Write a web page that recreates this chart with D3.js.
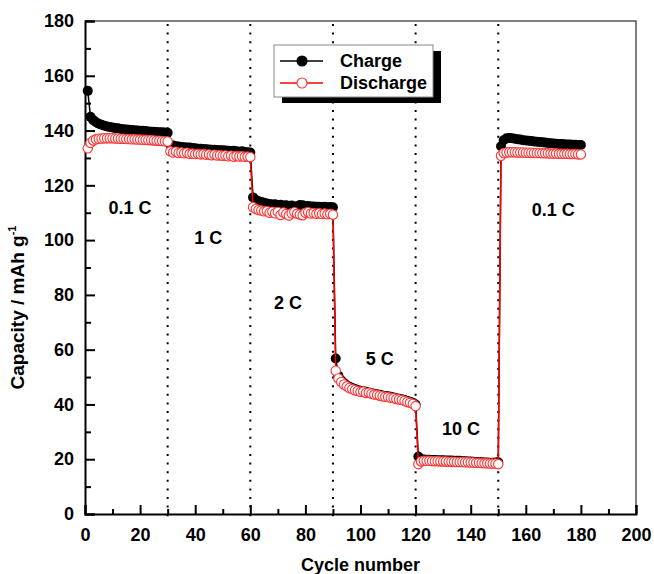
<!DOCTYPE html>
<html>
<head>
<meta charset="utf-8">
<script src="https://cdn.jsdelivr.net/npm/d3@7"></script>
<style>
  body { margin: 0; background: #fff; }
  svg text { font-family: "Liberation Sans", Arial, sans-serif; font-weight: bold; }
</style>
</head>
<body>
<svg id="chart"></svg>
<script>
// Rate steps (cycle where each step ends)
var stepEnds = [30, 60, 90, 120, 150];
var rateLabels = ["0.1 C", "1 C", "2 C", "5 C", "10 C", "0.1 C"];

// Charge capacity, one array per rate step (30 cycles each)
var charge01a = [154.5, 145.0, 143.8, 143.0, 142.5, 142.1, 141.8, 141.5, 141.3, 141.1, 140.9, 140.8, 140.6, 140.5, 140.4, 140.3, 140.2, 140.1, 140.0, 139.9, 139.9, 139.8, 139.7, 139.6, 139.6, 139.5, 139.4, 139.4, 139.3, 139.2];
var charge1 = [134.8, 134.5, 134.3, 134.2, 134.0, 133.9, 133.8, 133.8, 133.6, 133.5, 133.4, 133.4, 133.3, 133.2, 133.1, 133.0, 133.0, 132.9, 132.8, 132.8, 132.7, 132.6, 132.5, 132.6, 132.4, 132.3, 132.4, 132.2, 132.1, 132.0];
var charge2 = [115.6, 114.6, 114.2, 113.9, 113.6, 113.4, 113.2, 113.0, 113.1, 112.8, 112.9, 112.6, 112.7, 112.5, 112.6, 112.3, 112.4, 112.8, 112.7, 112.4, 112.5, 112.3, 112.3, 112.2, 112.2, 112.1, 112.2, 112.0, 112.1, 112.0];
var charge5 = [56.8, 50.5, 48.8, 47.8, 47.0, 46.5, 46.0, 45.6, 45.3, 45.0, 44.8, 44.6, 44.4, 44.1, 43.9, 43.7, 43.5, 43.3, 43.1, 43.0, 42.8, 42.5, 42.3, 42.1, 41.9, 41.6, 41.3, 41.0, 40.6, 40.0];
var charge10 = [21.0, 20.0, 19.9, 19.8, 19.8, 19.7, 19.7, 19.6, 19.6, 19.6, 19.5, 19.5, 19.5, 19.4, 19.4, 19.4, 19.3, 19.3, 19.2, 19.2, 19.1, 19.0, 19.0, 18.9, 18.8, 18.8, 18.7, 18.7, 18.8, 18.9];
var charge01b = [134.3, 136.5, 137.2, 137.3, 137.2, 137.0, 136.8, 136.7, 136.5, 136.4, 136.3, 136.2, 136.0, 135.9, 135.8, 135.7, 135.6, 135.5, 135.4, 135.3, 135.2, 135.1, 135.1, 135.0, 134.9, 134.9, 134.8, 134.8, 134.7, 134.7];

// Discharge capacity
var discharge01a = [133.5, 135.5, 136.4, 136.8, 137.0, 137.1, 137.2, 137.2, 137.2, 137.2, 137.1, 137.1, 137.0, 137.0, 136.9, 136.9, 136.8, 136.8, 136.7, 136.7, 136.6, 136.6, 136.5, 136.5, 136.4, 136.3, 136.3, 136.2, 136.1, 136.0];
var discharge1 = [132.4, 132.0, 132.3, 131.8, 132.0, 131.7, 131.9, 131.5, 131.6, 131.4, 131.5, 131.3, 131.4, 131.2, 131.3, 131.0, 131.2, 130.9, 131.0, 130.8, 130.9, 130.6, 130.8, 130.4, 130.7, 130.5, 130.6, 130.4, 130.5, 130.3];
var discharge2 = [112.0, 111.4, 111.0, 110.8, 110.5, 110.6, 110.0, 110.4, 109.8, 110.3, 109.2, 110.1, 109.5, 109.0, 109.8, 110.2, 109.6, 109.3, 109.1, 110.0, 110.2, 109.7, 109.9, 109.6, 109.8, 109.5, 109.7, 109.4, 109.6, 109.3];
var discharge5 = [52.3, 49.5, 48.2, 47.3, 46.6, 46.0, 45.6, 45.2, 44.9, 44.6, 44.7, 44.2, 44.3, 43.9, 43.6, 43.5, 43.2, 43.0, 42.8, 42.7, 42.4, 42.3, 42.0, 41.8, 41.6, 41.3, 40.9, 40.6, 40.2, 39.4];
var discharge10 = [18.2, 19.2, 19.4, 19.4, 19.4, 19.3, 19.3, 19.3, 19.2, 19.2, 19.2, 19.1, 19.1, 19.1, 19.0, 19.0, 19.0, 18.9, 18.9, 18.8, 18.8, 18.7, 18.7, 18.6, 18.5, 18.5, 18.4, 18.4, 18.4, 18.2];
var discharge01b = [130.8, 131.8, 132.0, 132.1, 132.1, 132.1, 132.0, 132.0, 132.0, 131.9, 131.9, 131.9, 131.8, 131.8, 131.8, 131.7, 131.7, 131.7, 131.6, 131.6, 131.6, 131.5, 131.5, 131.5, 131.5, 131.4, 131.4, 131.4, 131.3, 131.3];

var xTicks = [0, 20, 40, 60, 80, 100, 120, 140, 160, 180, 200];
var yTicks = [0, 20, 40, 60, 80, 100, 120, 140, 160, 180];

var W = 654, H = 574;
var m = {left: 85, right: 18, top: 21, bottom: 60};
var w = W - m.left - m.right, h = H - m.top - m.bottom;

var charge = [].concat(charge01a, charge1, charge2, charge5, charge10, charge01b)
  .map(function(v, i){ return {c: i + 1, v: v}; });
var discharge = [].concat(discharge01a, discharge1, discharge2, discharge5, discharge10, discharge01b)
  .map(function(v, i){ return {c: i + 1, v: v}; });

var x = d3.scaleLinear().domain([0, 200]).range([0, w]);
var y = d3.scaleLinear().domain([0, 180]).range([h, 0]);

var svg = d3.select('#chart').attr('width', W).attr('height', H);
var g = svg.append('g').attr('transform', 'translate(' + m.left + ',' + m.top + ')');

// frame (top / right)
g.append('path')
  .attr('d', 'M0,0H' + w + 'V' + h)
  .attr('fill', 'none').attr('stroke', '#555').attr('stroke-width', 1.5);

// dotted separators
g.selectAll('.sep')
  .data(stepEnds)
  .enter()
  .append('line')
  .attr('x1', function(d){ return x(d); })
  .attr('x2', function(d){ return x(d); })
  .attr('y1', 3).attr('y2', h + 5)
  .attr('stroke', '#000').attr('stroke-width', 2)
  .attr('stroke-dasharray', '2,6.6');

// axes with inward ticks
var xAxis = d3.axisBottom(x).tickValues(d3.range(0, 201, 10)).tickSize(-9).tickPadding(14)
  .tickFormat(function(d){ return xTicks.indexOf(d) >= 0 ? d : ''; });
var yAxis = d3.axisLeft(y).tickValues(d3.range(0, 181, 10)).tickSize(-10).tickPadding(11)
  .tickFormat(function(d){ return yTicks.indexOf(d) >= 0 ? d : ''; });

var gx = g.append('g').attr('transform', 'translate(0,' + h + ')').call(xAxis);
var gy = g.append('g').call(yAxis);

[gx, gy].forEach(function(a){
  a.select('.domain').attr('stroke', '#000').attr('stroke-width', 2);
  a.selectAll('.tick line').attr('stroke', '#000').attr('stroke-width', 2);
  a.selectAll('.tick text').attr('font-size', 18).attr('fill', '#000')
    .attr('font-family', '"Liberation Sans", Arial, sans-serif').attr('font-weight', 'bold');
});
gx.selectAll('.tick').filter(function(d){ return d % 20 !== 0; }).select('line').attr('y2', -5);
gy.selectAll('.tick').filter(function(d){ return d % 20 !== 0; }).select('line').attr('x2', 6);

// series lines
var line = d3.line().x(function(d){ return x(d.c); }).y(function(d){ return y(d.v); });

g.append('path').datum(charge)
  .attr('d', line).attr('fill', 'none').attr('stroke', '#000').attr('stroke-width', 1.5);

g.selectAll('.cpt')
  .data(charge)
  .enter()
  .append('circle')
  .attr('cx', function(d){ return x(d.c); })
  .attr('cy', function(d){ return y(d.v); })
  .attr('r', 5).attr('fill', '#000');

g.append('path').datum(discharge)
  .attr('d', line).attr('fill', 'none').attr('stroke', '#f00').attr('stroke-width', 1.5);

g.selectAll('.dpt')
  .data(discharge)
  .enter()
  .append('circle')
  .attr('cx', function(d){ return x(d.c); })
  .attr('cy', function(d){ return y(d.v); })
  .attr('r', 4.7).attr('fill', '#fff').attr('stroke', '#f33').attr('stroke-width', 1.1);

// rate labels (anchored in data units)
var labelPos = [[16.3, 112], [44.7, 101], [73.7, 77], [107, 56.6], [136.5, 31], [170, 111]];
g.selectAll('.rate')
  .data(rateLabels)
  .enter()
  .append('text')
  .attr('x', function(d, i){ return x(labelPos[i][0]); })
  .attr('y', function(d, i){ return y(labelPos[i][1]); })
  .attr('text-anchor', 'middle')
  .attr('dy', '0.35em')
  .attr('font-size', 18)
  .text(function(d){ return d; });

// legend
var lg = svg.append('g').attr('transform', 'translate(274,45)');
lg.append('rect').attr('x', 8).attr('y', 6).attr('width', 159).attr('height', 52).attr('fill', '#000');
lg.append('rect').attr('x', 0).attr('y', 0).attr('width', 159).attr('height', 52)
  .attr('fill', '#fff').attr('stroke', '#888').attr('stroke-width', 1);
var items = [{name: 'Charge', color: '#000', fill: '#000'}, {name: 'Discharge', color: '#f00', fill: '#fff'}];
items.forEach(function(it, i){
  var yy = 16 + i * 22;
  lg.append('line').attr('x1', 6).attr('x2', 49).attr('y1', yy).attr('y2', yy)
    .attr('stroke', it.color).attr('stroke-width', 1.5);
  lg.append('circle').attr('cx', 28).attr('cy', yy).attr('r', 5)
    .attr('fill', it.fill).attr('stroke', it.color === '#000' ? '#000' : '#f33').attr('stroke-width', 1.1);
  lg.append('text').attr('x', 66).attr('y', yy).attr('dy', '0.35em').attr('font-size', 18).text(it.name);
});

// axis titles
svg.append('text')
  .attr('x', m.left + x(100))
  .attr('y', 571)
  .attr('text-anchor', 'middle')
  .attr('font-size', 18)
  .text('Cycle number');

var yt = svg.append('text')
  .attr('transform', 'translate(24,' + (m.top + h / 2 + 40) + ') rotate(-90)')
  .attr('text-anchor', 'middle')
  .attr('font-size', 19);
yt.append('tspan').text('Capacity / mAh g');
yt.append('tspan').attr('font-size', 11).attr('dy', -8).text('-1');
</script>
</body>
</html>
